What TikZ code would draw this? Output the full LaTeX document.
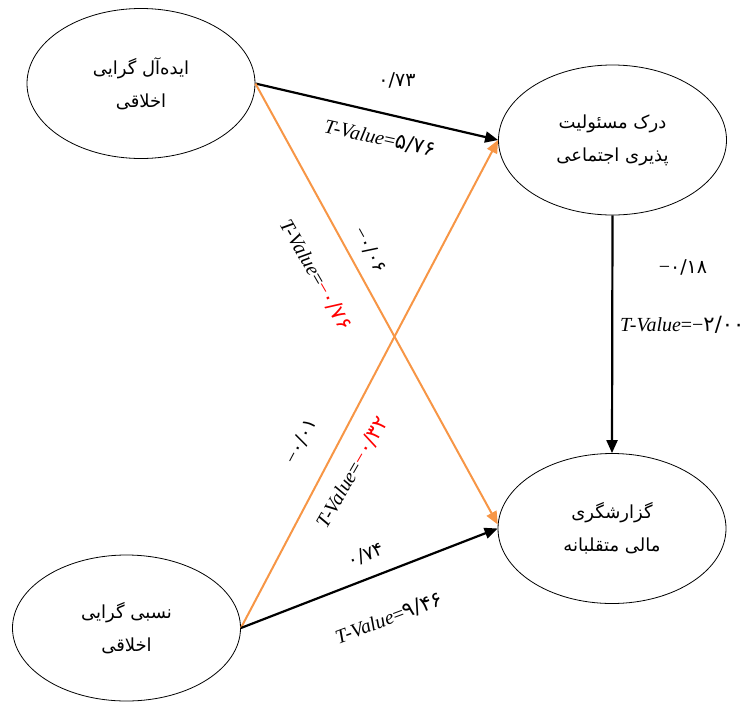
\documentclass[tikz,border=0pt]{standalone}
\usepackage{fontspec}
\setmainfont{Liberation Serif}
\newfontfamily\fa[Script=Arabic]{DejaVu Sans}
\TeXXeTstate=1
\usetikzlibrary{arrows.meta,shapes.geometric}
\definecolor{orangeC}{RGB}{247,150,70}
\definecolor{redC}{RGB}{255,0,0}
\newcommand{\mn}{{\rmfamily\fontsize{20}{20}\selectfont −}}
\newcommand{\dg}[1]{{\fa\fontsize{21}{20}\selectfont #1}}
\tikzset{
  ell/.style={ellipse, draw, line width=0.8pt, minimum width=228pt, minimum height=150pt,
    inner sep=0pt, align=center, font=\fa\fontsize{18}{33}\selectfont},
  tip/.style={-{Triangle[length=13pt,width=11pt]}},
  blk/.style={tip, line width=2.2pt, draw=black},
  org/.style={tip, line width=2pt, draw=orangeC},
  num/.style={inner sep=0pt, font=\fa\fontsize{19}{20}\selectfont},
  tv/.style={inner sep=0pt, font=\fontsize{20}{20}\selectfont}
}
\begin{document}
\begin{tikzpicture}[x=1pt,y=-1pt]
\useasboundingbox (0,0) rectangle (755,702);
% ellipses
\node[ell] (tl) at (141,83.5) {\beginR ایده‌آل گرایی\endR\\\beginR اخلاقی\endR};
\node[ell] (tr) at (612.5,140) {\beginR درک مسئولیت\endR\\\beginR پذیری اجتماعی\endR};
\node[ell] (br) at (612,528.5) {\beginR گزارشگری\endR\\\beginR مالی متقلبانه\endR};
\node[ell, minimum height=146pt] (bl) at (126.5,628) {\beginR نسبی گرایی\endR\\\beginR اخلاقی\endR};
% connectors
\draw[blk] (tl.east) -- (tr.west);
\draw[org] (tl.east) -- (br.178);
\draw[org] (bl.east) -- (tr.west);
\draw[blk] (bl.east) -- (br.west);
\draw[blk] (tr.south) -- (br.north);
% labels
\node[num] (n1) at (397,80) {۰/۷۳};
\node[tv, rotate=-12.3] (t1) at (380,138) {\textit{T-Value}=\dg{۵/۷۶}};
\node[num, rotate=-61] (n2) at (370,250) {\mn۰/۰۶};
\node[tv, rotate=-60] (t2) at (316,275) {\textit{T-Value}={\color{redC}\mn\dg{۰/۷۶}}};
\node[num, rotate=62] (n3) at (301,441) {\mn۰/۰۱};
\node[tv, rotate=60] (t3) at (352,472) {\textit{T-Value}={\color{redC}\mn\dg{۰/۳۲}}};
\node[num, rotate=21] (n4) at (366,555) {۰/۷۴};
\node[tv, rotate=20.5] (t4) at (389,618) {\textit{T-Value}=\dg{۹/۴۶}};
\node[num] (n5) at (683,267) {\mn۰/۱۸};
\node[tv, anchor=west] (t5) at (620,325) {\textit{T-Value}=\mn\dg{۲/۰۰}};
\end{tikzpicture}
\end{document}
